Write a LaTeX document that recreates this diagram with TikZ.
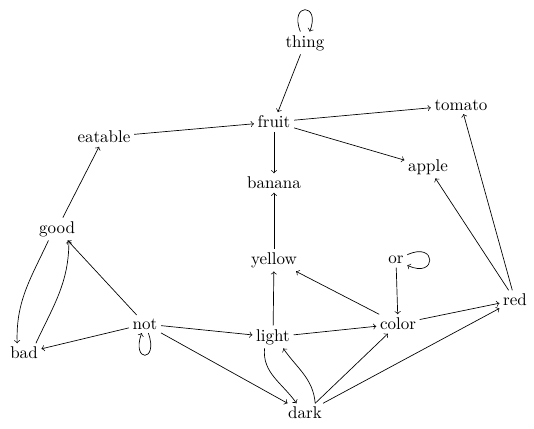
\documentclass[tikz,border=0pt]{standalone}
\begin{document}
\begin{tikzpicture}[x=0.588pt,y=-0.588pt,
  word/.style={inner sep=2pt},
  arr/.style={->},
  every loop/.style={->,min distance=6.5mm,looseness=8}]
\useasboundingbox (0,0) rectangle (534,429);
\node[word] (thing) at (305,43) {thing};
\node[word] (fruit) at (274,122) {fruit};
\node[word] (tomato) at (461,105) {tomato};
\node[word] (eatable) at (104,137) {eatable};
\node[word] (apple) at (428,167) {apple};
\node[word] (banana) at (274,183) {banana};
\node[word] (good) at (57,229) {good};
\node[word] (yellow) at (274,260) {yellow};
\node[word] (or) at (396,260) {or};
\node[word] (red) at (515,300) {red};
\node[word] (not) at (145,324) {not};
\node[word] (color) at (398,324) {color};
\node[word] (light) at (273,337) {light};
\node[word] (bad) at (24,353) {bad};
\node[word] (dark) at (305,413) {dark};

\draw (thing) edge[out=112,in=68,loop] (thing);
\draw (not) edge[out=-70,in=-110,loop] (not);
\draw (or) edge[out=25,in=-25,min distance=8mm,loop] (or);

\draw[arr] (thing) -- (fruit);
\draw[arr] (fruit) -- (tomato);
\draw[arr] (fruit) -- (apple);
\draw[arr] (fruit) -- (banana);
\draw[arr] (eatable) -- (fruit);
\draw[arr] (good) -- (eatable);
\draw[arr] ([xshift=-5]good.south) to[out=-115,in=92] ([xshift=-4]bad.north);
\draw[arr] ([xshift=7]bad.north) to[out=65,in=-90] ([xshift=7]good.south);
\draw[arr] (not) -- (good);
\draw[arr] (not) -- (bad);
\draw[arr] (not) -- (light);
\draw[arr] (not) -- (dark);
\draw[arr] (light) -- (yellow);
\draw[arr] (light) -- (color);
\draw[arr] ([xshift=-5]light.south) to[out=-95,in=125] ([xshift=-5]dark.north);
\draw[arr] ([xshift=6]dark.north) to[out=95,in=-55] ([xshift=6]light.south);
\draw[arr] (yellow) -- (banana);
\draw[arr] (color) -- (yellow);
\draw[arr] (color) -- (red);
\draw[arr] (or) -- (color);
\draw[arr] (red) -- (tomato);
\draw[arr] (red) -- (apple);
\draw[arr] (dark) -- (color);
\draw[arr] (dark) -- (red);
\end{tikzpicture}
\end{document}
